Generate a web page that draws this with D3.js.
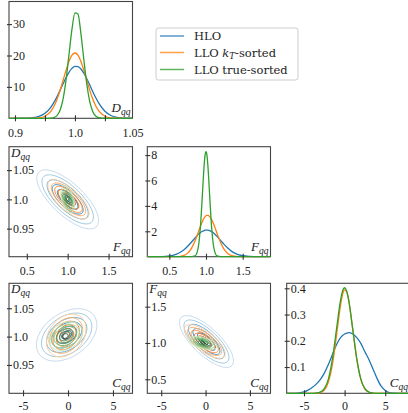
<!DOCTYPE html>
<html>
<head>
<meta charset="utf-8">
<script src="https://cdn.jsdelivr.net/npm/d3@7"></script>
<style>
body { margin: 0; background: #fff; }
</style>
</head>
<body>
<div id="chart"></div>
<script>
// series
var seriesNames = ["HLO", "LLO kT-sorted", "LLO true-sorted"];
var seriesColors = ["#1f77b4", "#ff7f0e", "#2ca02c"];

// marginal of D_qq
var dqqX    = [0.89, 0.90, 0.91, 0.92, 0.93, 0.94, 0.95, 0.96, 0.965, 0.97, 0.975, 0.98, 0.985, 0.99, 0.995, 1.00, 1.005, 1.01, 1.015, 1.02, 1.025, 1.03, 1.035, 1.04, 1.05, 1.06, 1.07, 1.08, 1.09, 1.096];
var dqqHLO  = [0, 0, 0.01, 0.05, 0.18, 0.59, 1.59, 3.59, 5.06, 6.82, 8.82, 10.9, 12.9, 14.65, 15.9, 16.54, 16.47, 15.7, 14.3, 12.5, 10.5, 8.4, 6.45, 4.74, 2.25, 0.9, 0.3, 0.08, 0.02, 0.01];
var dqqKT   = [0, 0, 0, 0, 0.02, 0.14, 0.65, 2.27, 3.82, 5.98, 8.75, 11.95, 15.2, 18.1, 20.1, 20.8, 20.1, 18.1, 15.2, 11.95, 8.75, 5.98, 3.82, 2.27, 0.65, 0.14, 0.02, 0, 0, 0];
var dqqTrue = [0, 0, 0, 0, 0, 0, 0, 0.06, 0.25, 0.86, 2.46, 5.95, 12.0, 20.2, 28.3, 33.6, 33.2, 26.9, 18.4, 10.6, 5.05, 2.03, 0.67, 0.19, 0.01, 0, 0, 0, 0, 0];

// marginal of F_qq
var fqqX    = [0.2, 0.3, 0.4, 0.5, 0.55, 0.6, 0.65, 0.7, 0.75, 0.8, 0.85, 0.875, 0.9, 0.925, 0.95, 0.975, 0.9875, 1.0, 1.0125, 1.025, 1.05, 1.075, 1.1, 1.125, 1.15, 1.2, 1.25, 1.3, 1.35, 1.4, 1.45, 1.5, 1.6, 1.7, 1.8, 1.88];
var fqqHLO  = [0, 0, 0.01, 0.06, 0.11, 0.2, 0.35, 0.55, 0.82, 1.14, 1.47, 1.63, 1.78, 1.9, 2.0, 2.06, 2.09, 2.1, 2.1, 2.09, 2.05, 1.98, 1.88, 1.75, 1.6, 1.27, 0.95, 0.66, 0.42, 0.26, 0.14, 0.075, 0.02, 0, 0, 0];
var fqqKT   = [0, 0, 0, 0, 0, 0.01, 0.03, 0.1, 0.28, 0.64, 1.23, 1.61, 2.01, 2.41, 2.76, 3.05, 3.15, 3.22, 3.25, 3.26, 3.16, 2.94, 2.63, 2.25, 1.85, 1.1, 0.55, 0.23, 0.08, 0.03, 0.01, 0, 0, 0, 0, 0];
var fqqTrue = [0, 0, 0, 0, 0, 0, 0, 0, 0, 0, 0.06, 0.28, 0.94, 2.44, 4.81, 7.22, 8.0, 8.27, 8.0, 7.22, 4.81, 2.44, 0.94, 0.28, 0.06, 0, 0, 0, 0, 0, 0, 0, 0, 0, 0, 0];

// marginal of C_qq
var cqqX    = [-7.13, -6, -5.5, -5, -4.5, -4, -3.5, -3, -2.5, -2, -1.5, -1, -0.5, -0.25, 0, 0.25, 0.5, 1, 1.5, 2, 2.5, 3, 3.5, 4, 4.5, 5, 5.5, 6, 7, 8.05];
var cqqHLO  = [0, 0, 0.002, 0.005, 0.012, 0.022, 0.035, 0.052, 0.077, 0.11, 0.148, 0.185, 0.212, 0.22, 0.226, 0.229, 0.231, 0.226, 0.212, 0.19, 0.158, 0.128, 0.092, 0.056, 0.027, 0.011, 0.003, 0.001, 0, 0];
var cqqKT   = [0, 0, 0, 0, 0, 0, 0.0005, 0.003, 0.012, 0.043, 0.11, 0.22, 0.336, 0.377, 0.394, 0.387, 0.355, 0.245, 0.129, 0.052, 0.016, 0.004, 0.001, 0, 0, 0, 0, 0, 0, 0];
var cqqTrue = [0, 0, 0, 0, 0, 0, 0.001, 0.0045, 0.0176, 0.054, 0.131, 0.244, 0.355, 0.39, 0.402, 0.39, 0.355, 0.244, 0.131, 0.054, 0.0176, 0.0045, 0.001, 0, 0, 0, 0, 0, 0, 0];

// 2d contours per series: [centre x, centre y, spread x, spread y, correlation]
var contFqqDqq = [[1.00, 1.000, 0.18, 0.024, -0.72], [1.01, 1.000, 0.12, 0.016, -0.72], [1.00, 1.000, 0.04, 0.011, -0.45]];
var contCqqDqq = [[-0.15, 1.003, 1.6, 0.022, 0.38], [-0.2, 1.002, 1.05, 0.018, 0.30], [-0.3, 1.001, 0.9, 0.012, 0.25]];
var contCqqFqq = [[0.1, 1.02, 1.45, 0.17, -0.74], [-0.1, 1.02, 1.1, 0.11, -0.72], [-0.3, 1.00, 0.75, 0.043, -0.50]];
var contourLevels = [2.1, 1.75, 1.4, 1.05, 0.7, 0.35];

// tick values and labels
var dqqTickMarks = [0.9, 0.95, 1.0, 1.05];
var dqqLabelPos = [0.9, 1.0, 1.096];
var dqqLabels = ["0.9", "1.0", "1.05"];
var dqqDensTicks = [10, 20, 30];
var dqqTicks = [0.95, 1.0, 1.05];
var fqqTicks = [0.5, 1.0, 1.5];
var fqqDensTicks = [2, 4, 6, 8];
var cqqTicks = [-5, 0, 5];
var cqqDensTicks = [0.1, 0.2, 0.3, 0.4];

var contourColors = [
  ["#c6dbef", "#9ecae1", "#6baed6", "#4292c6", "#2171b5", "#084594"],
  ["#fdd0a2", "#fdae6b", "#fd8d3c", "#f16913", "#d94801", "#8c2d04"],
  ["#c7e9c0", "#a1d99b", "#74c476", "#41ab5d", "#238b45", "#005a32"]
];

var serif = "'Liberation Serif', 'DejaVu Serif', serif";
var cols = [[9, 132.5], [147.3, 270.5], [286.7, 410]];
var rows = [[1.5, 118.3], [146.7, 256.7], [283.3, 393.3]];
var plain = function(d) { return String(d); };

var svg = d3.select("#chart").append("svg")
  .attr("width", 408)
  .attr("height", 413);

function makePanel(c, r, xDom, yDom) {
  var x = d3.scaleLinear().domain(xDom).range(cols[c]);
  var y = d3.scaleLinear().domain(yDom).range([rows[r][1], rows[r][0]]);
  var g = svg.append("g");
  var id = "clip" + c + r;
  g.append("clipPath").attr("id", id).append("rect")
    .attr("x", cols[c][0]).attr("y", rows[r][0])
    .attr("width", cols[c][1] - cols[c][0]).attr("height", rows[r][1] - rows[r][0] + 1);
  g.append("rect")
    .attr("x", cols[c][0]).attr("y", rows[r][0])
    .attr("width", cols[c][1] - cols[c][0]).attr("height", rows[r][1] - rows[r][0])
    .attr("fill", "none").attr("stroke", "#444").attr("stroke-width", 1.1);
  var plot = g.append("g").attr("clip-path", "url(#" + id + ")");
  return {g: g, plot: plot, x: x, y: y};
}

function styleAxis(ax) {
  ax.select(".domain").remove();
  ax.attr("font-family", serif).attr("font-size", 12);
  ax.selectAll("text").attr("fill", "#222").style("font-family", serif);
  ax.selectAll(".tick line").attr("stroke", "#333").attr("stroke-width", 1.1);
}

function xAxis(p, ticks, fmt, pad) {
  var ax = p.g.append("g")
    .attr("transform", "translate(0," + p.y.range()[0] + ")")
    .call(d3.axisBottom(p.x).tickValues(ticks).tickFormat(fmt || d3.format(".1f"))
      .tickSizeInner(3).tickSizeOuter(0).tickPadding(pad || 7));
  styleAxis(ax);
  ax.selectAll(".tick line").attr("y1", -3).attr("y2", 3);
  return ax;
}

function yAxis(p, ticks, fmt) {
  var ax = p.g.append("g")
    .attr("transform", "translate(" + p.x.range()[0] + ",0)")
    .call(d3.axisLeft(p.y).tickValues(ticks).tickFormat(fmt || d3.format(".1f"))
      .tickSizeInner(3).tickSizeOuter(0));
  styleAxis(ax);
  ax.selectAll(".tick line").attr("x1", 3).attr("x2", -2);
  ax.selectAll("text").attr("x", 4).attr("text-anchor", "start");
  return ax;
}

function mathLabel(p, main, sub, corner) {
  var t = p.g.append("text")
    .attr("font-family", serif).attr("font-style", "italic")
    .attr("font-size", 13).attr("fill", "#222");
  if (corner === "br") {
    t.attr("x", p.x.range()[1] - 2).attr("y", p.y.range()[0] - 6).attr("text-anchor", "end");
  } else {
    t.attr("x", p.x.range()[0] + 2).attr("y", p.y.range()[1] + 10).attr("text-anchor", "start");
  }
  t.append("tspan").text(main);
  t.append("tspan").attr("font-size", 9.5).attr("dy", 3).text(sub);
}

function drawCurves(p, xs, ys) {
  var line = d3.line()
    .x(function(d, i) { return p.x(xs[i]); })
    .y(function(d) { return p.y(d); })
    .curve(d3.curveMonotoneX);
  ys.forEach(function(s, k) {
    p.plot.append("path").attr("d", line(s))
      .attr("fill", "none").attr("stroke", seriesColors[k]).attr("stroke-width", 1.3);
  });
}

var ellipseLine = d3.line().curve(d3.curveCardinalClosed);
function drawContours(p, params) {
  params.forEach(function(c, s) {
    contourLevels.forEach(function(k, i) {
      var pts = d3.range(60).map(function(j) {
        var t = j / 60 * 2 * Math.PI;
        var u = Math.cos(t), v = Math.sin(t);
        return [p.x(c[0] + k * c[2] * u),
                p.y(c[1] + k * c[3] * (c[4] * u + Math.sqrt(1 - c[4] * c[4]) * v))];
      });
      p.plot.append("path").attr("d", ellipseLine(pts))
        .attr("fill", "none").attr("stroke", contourColors[s][i]).attr("stroke-width", 1);
    });
  });
}

// row 1: D_qq marginal
var p11 = makePanel(0, 0, [0.89, 1.096], [0, 37.2]);
drawCurves(p11, dqqX, [dqqHLO, dqqKT, dqqTrue]);
xAxis(p11, dqqTickMarks, function() { return ""; });
var lab = p11.g.append("g")
  .attr("transform", "translate(0," + p11.y.range()[0] + ")")
  .call(d3.axisBottom(p11.x).tickValues(dqqLabelPos)
    .tickFormat(function(d, i) { return dqqLabels[i]; })
    .tickSize(0).tickPadding(10));
styleAxis(lab);
lab.selectAll(".tick line").remove();
yAxis(p11, dqqDensTicks, plain);
mathLabel(p11, "D", "qq", "br");

// row 2
var p21 = makePanel(0, 1, [0.282, 1.793], [0.902, 1.090]);
drawContours(p21, contFqqDqq);
xAxis(p21, fqqTicks);
yAxis(p21, dqqTicks, function(d) { return d === 1 ? "1.0" : d3.format(".2f")(d); });
mathLabel(p21, "F", "qq", "br");
mathLabel(p21, "D", "qq", "tl");

var p22 = makePanel(1, 1, [0.2, 1.879], [0, 8.66]);
drawCurves(p22, fqqX, [fqqHLO, fqqKT, fqqTrue]);
xAxis(p22, fqqTicks);
yAxis(p22, fqqDensTicks, plain);
mathLabel(p22, "F", "qq", "br");

// row 3
var p31 = makePanel(0, 2, [-6.56, 7.17], [0.900, 1.094]);
drawContours(p31, contCqqDqq);
xAxis(p31, cqqTicks, plain, 5);
yAxis(p31, dqqTicks, function(d) { return d === 1 ? "1.0" : d3.format(".2f")(d); });
mathLabel(p31, "C", "qq", "br");
mathLabel(p31, "D", "qq", "tl");

var p32 = makePanel(1, 2, [-6.57, 7.32], [0.307, 1.822]);
drawContours(p32, contCqqFqq);
xAxis(p32, cqqTicks, plain, 5);
yAxis(p32, fqqTicks);
mathLabel(p32, "C", "qq", "br");
mathLabel(p32, "F", "qq", "tl");

var p33 = makePanel(2, 2, [-7.13, 8.05], [0, 0.419]);
drawCurves(p33, cqqX, [cqqHLO, cqqKT, cqqTrue]);
xAxis(p33, cqqTicks, plain, 5);
yAxis(p33, cqqDensTicks);
mathLabel(p33, "C", "qq", "br");

// legend
var legend = svg.append("g").attr("transform", "translate(156,28)");
legend.append("rect")
  .attr("width", 142).attr("height", 52).attr("rx", 2.5)
  .attr("fill", "#fff").attr("stroke", "#ccc").attr("stroke-width", 1);
var rowsY = [8, 24.5, 41.5];
seriesNames.forEach(function(name, i) {
  legend.append("line")
    .attr("x1", 4).attr("x2", 28).attr("y1", rowsY[i]).attr("y2", rowsY[i])
    .attr("stroke", seriesColors[i]).attr("stroke-width", 1.5).attr("opacity", 0.75);
  var t = legend.append("text")
    .attr("x", 38).attr("y", rowsY[i] + 4)
    .attr("font-family", "'DejaVu Serif', serif").attr("font-size", 11.5).attr("fill", "#222");
  if (i === 1) {
    t.append("tspan").text("LLO ");
    t.append("tspan").attr("font-style", "italic").text("k");
    t.append("tspan").attr("font-style", "italic").attr("font-size", 8.5).attr("dy", 2.5).text("T");
    t.append("tspan").attr("dy", -2.5).text("-sorted");
  } else {
    t.text(name);
  }
});
</script>
</body>
</html>
